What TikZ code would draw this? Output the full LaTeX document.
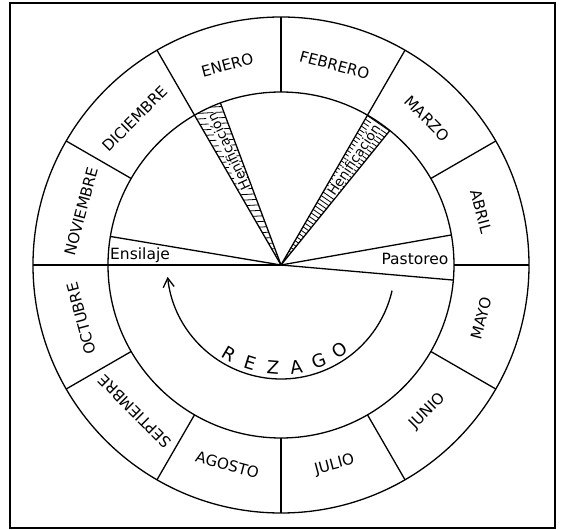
\documentclass[tikz,border=0pt]{standalone}
\usepackage{fontspec}
\setmainfont{DejaVu Sans}
\usetikzlibrary{arrows.meta}
\begin{document}
\begin{tikzpicture}[x=1pt,y=1pt,
  ringline/.style={line width=1.3pt},
  month/.style={font=\fontsize{15.2}{17}\selectfont, inner sep=0pt},
  uselabel/.style={font=\fontsize{15.5}{17}\selectfont, inner sep=0pt},
  henlabel/.style={font=\fontsize{13.5}{15}\selectfont, fill=white, inner sep=0.3pt},
  rezletter/.style={font=\fontsize{18}{20}\selectfont, inner sep=0pt},
  hatchline/.style={line width=0.8pt}
]
\useasboundingbox (-281,-265) rectangle (282,265);
\draw[line width=1.8pt] (-271,-263) rectangle (274,262);
\coordinate (O) at (0,0);
% hatching of the two Henificacion wedges
\begin{scope}
  \clip (O) -- (110.5:173) arc[start angle=110.5, end angle=120, radius=173] -- cycle;
  \begin{scope}[rotate=115]
    \foreach \t in {0,6,...,186} \draw[hatchline] (\t-8,-20) -- (\t+8,20);
  \end{scope}
\end{scope}
\begin{scope}
  \clip (O) -- (51:173) arc[start angle=51, end angle=60, radius=173] -- cycle;
  \begin{scope}[rotate=55.5]
    \foreach \t in {4,8,...,176} \draw[hatchline] (\t,-20) -- (\t,20);
  \end{scope}
\end{scope}
% circles
\draw[ringline] (O) circle (248);
\draw[ringline] (O) circle (173);
% month boundaries in the ring
\foreach \a in {90,30,0,-30,-60,-90,-120,-150,150}
  \draw[ringline] (\a:173) -- (\a:248);
% lines through the inner disc
\draw[ringline] (O) -- (180:248);
\draw[ringline] (O) -- (120:248);
\draw[ringline] (O) -- (60:248);
\draw[ringline] (O) -- (110.5:173);
\draw[ringline] (O) -- (51:173);
\draw[ringline] (O) -- (170.5:173);
\draw[ringline] (O) -- (10:173);
\draw[ringline] (O) -- (-5:173);
% months
\node[month, rotate=15]  (ene) at (105:207) {ENERO};
\node[month, rotate=-15] (feb) at (75:207)  {FEBRERO};
\node[month, rotate=-45] (mar) at (45:207)  {MARZO};
\node[month, rotate=-75] (abr) at (15:207)  {ABRIL};
\node[month, rotate=75]  (may) at (-15:207) {MAYO};
\node[month, rotate=45]  (jun) at (-45:207) {JUNIO};
\node[month, rotate=15]  (jul) at (-75:207) {JULIO};
\node[month, rotate=-15] (ago) at (-105:207) {AGOSTO};
\node[month, rotate=135] (sep) at (-135:207) {SEPTIEMBRE};
\node[month, rotate=105] (oct) at (195:207) {OCTUBRE};
\node[month, rotate=75]  (nov) at (165:207) {NOVIEMBRE};
\node[month, rotate=45]  (dic) at (135:207) {DICIEMBRE};
% uses
\node[uselabel, anchor=base west] (ens) at (-171,5) {Ensilaje};
\node[uselabel, anchor=base] (pas) at (134,0) {Pastoreo};
\node[henlabel, rotate=115] (hen1) at (115:125) {Henificación};
\node[henlabel, rotate=56] (hen2) at (55.5:128) {Henificación};
% rezago
\foreach \l [count=\i] in {R,E,Z,A,G,O} {
  \pgfmathsetmacro{\ang}{-120.5+13*(\i-1)}
  \node[rezletter, rotate=\ang+90] (rz\i) at (\ang:103) {\l};
}
\coordinate (arrs) at (-13:114);
\draw[ringline, -{Straight Barb[length=9pt,width=11pt]}] (arrs) arc[start angle=-13, end angle=-174, radius=114] coordinate (arre);
\end{tikzpicture}
\end{document}
